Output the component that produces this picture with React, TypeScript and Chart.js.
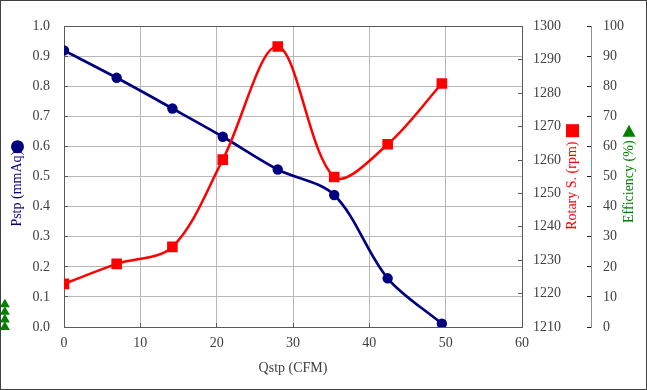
import React, { useEffect, useRef } from 'react';
import { Chart, registerables } from 'chart.js';

Chart.register(...registerables);

// ---- data ----
const qstp = [0, 6.9, 14.2, 20.8, 28.0, 35.4, 42.4, 49.5];
const pstp = [0.92, 0.829, 0.727, 0.633, 0.524, 0.439, 0.162, 0.011];
const rotary = [1222.9, 1228.9, 1234.0, 1260.1, 1294.0, 1254.9, 1264.7, 1282.9];
const effQstp = [-7.75, -7.75, -7.75, -7.75];
const efficiency = [0, 2.5, 5, 7.5];

const xTitle = 'Qstp (CFM)';
const pstpTitle = 'Pstp (mmAq)';
const rotaryTitle = 'Rotary S. (rpm)';
const effTitle = 'Efficiency (%)';

const NAVY = '#000080';
const RED = '#ff0000';
const GREEN = '#008000';
const FONT = '"Liberation Serif", "Times New Roman", serif';
const TEXT = '#404040';
const FRAME = '#595959';
const GRID = '#b8b8b8';

const bgPlugin = {
  id: 'bgBorder',
  beforeDraw(chart: any) {
    const { ctx, width, height } = chart;
    ctx.save();
    ctx.fillStyle = '#ffffff';
    ctx.fillRect(0, 0, width, height);
    ctx.restore();
  },
  afterDraw(chart: any) {
    const { ctx, width, height } = chart;
    ctx.save();
    ctx.strokeStyle = '#404040';
    ctx.lineWidth = 1;
    ctx.strokeRect(0.5, 0.5, width - 1, height - 1);
    ctx.restore();
  },
};

// draws points that lie outside the chart area (Chart.js skips them)
const outsidePoints = {
  id: 'outsidePoints',
  afterDatasetsDraw(chart: any) {
    const meta = chart.getDatasetMeta(2);
    const big = { left: -1e5, top: -1e5, right: 1e5, bottom: 1e5 };
    meta.data.forEach((pt: any) => pt.draw(chart.ctx, big));
  },
};

const titlesPlugin = {
  id: 'sideTitles',
  afterDraw(chart: any) {
    const { ctx, chartArea, scales } = chart;
    const mid = (chartArea.top + chartArea.bottom) / 2;
    ctx.save();
    ctx.font = `14px ${FONT}`;
    ctx.textAlign = 'center';
    ctx.textBaseline = 'middle';
    const vtext = (t: string, x: number, y: number, c: string) => {
      ctx.save();
      ctx.translate(x, y);
      ctx.rotate(-Math.PI / 2);
      ctx.fillStyle = c;
      ctx.fillText(t, 0, 0);
      ctx.restore();
    };
    // left
    const lx = scales.y.left + 17.5;
    vtext(pstpTitle, lx, mid + 12, NAVY);
    ctx.fillStyle = NAVY;
    ctx.beginPath();
    ctx.arc(lx, mid - 30, 6.5, 0, Math.PI * 2);
    ctx.fill();
    // rotary
    const rx = scales.y1.left + 50.5;
    vtext(rotaryTitle, rx, mid + 9, RED);
    ctx.fillStyle = RED;
    ctx.fillRect(rx - 6.5, mid - 52.5, 13, 13);
    // efficiency
    const ex = scales.y2.left + 38;
    vtext(effTitle, ex, mid + 5, GREEN);
    ctx.fillStyle = GREEN;
    ctx.beginPath();
    const ty = mid - 45;
    ctx.moveTo(ex, ty - 7);
    ctx.lineTo(ex + 6.5, ty + 5);
    ctx.lineTo(ex - 6.5, ty + 5);
    ctx.closePath();
    ctx.fill();
    ctx.restore();
  },
};

export default function App() {
  const ref = useRef<HTMLCanvasElement | null>(null);
  useEffect(() => {
    if (!ref.current) return;
    Chart.defaults.font.family = FONT;
    Chart.defaults.font.size = 14;
    Chart.defaults.color = TEXT;
    const chart = new Chart(ref.current, {
      type: 'line',
      data: {
        datasets: [
          {
            label: pstpTitle,
            data: qstp.map((x, i) => ({ x, y: pstp[i] })),
            yAxisID: 'y',
            borderColor: NAVY,
            backgroundColor: NAVY,
            borderWidth: 2.7,
            pointStyle: 'circle',
            pointRadius: 5.2,
            pointBorderWidth: 0,
            pointBackgroundColor: NAVY,
            tension: 0.33,
            order: 1,
          },
          {
            label: rotaryTitle,
            data: qstp.map((x, i) => ({ x, y: rotary[i] })),
            yAxisID: 'y1',
            borderColor: RED,
            backgroundColor: RED,
            borderWidth: 2.5,
            pointStyle: 'rect',
            pointRadius: 7.5,
            pointBorderWidth: 0,
            pointBackgroundColor: RED,
            tension: 0.33,
            order: 0,
          },
          {
            label: effTitle,
            data: effQstp.map((x, i) => ({ x, y: efficiency[i] })),
            yAxisID: 'y2',
            borderColor: GREEN,
            backgroundColor: GREEN,
            showLine: false,
            pointStyle: 'triangle',
            pointRadius: 5.8,
            pointBorderWidth: 0,
            pointBackgroundColor: GREEN,
            order: 2,
          },
        ],
      },
      options: {
        responsive: false,
        animation: false,
        events: [],
        layout: { padding: { top: 19, left: 0, right: 0, bottom: 0 } },
        plugins: { legend: { display: false }, tooltip: { enabled: false } },
        scales: {
          x: {
            type: 'linear',
            min: 0,
            max: 60,
            ticks: { stepSize: 10, padding: 12, color: TEXT, callback: (v: any) => String(v) },
            grid: { color: GRID, tickColor: FRAME, tickLength: -4 },
            border: { color: FRAME, width: 1 },
            title: {
              display: true,
              text: xTitle,
              color: TEXT,
              font: { size: 14 },
              padding: { top: 4, bottom: 13 },
            },
            afterFit: (s: any) => {
              s.height = 63;
            },
          },
          y: {
            position: 'left',
            min: 0,
            max: 1,
            ticks: {
              stepSize: 0.1,
              padding: 18,
              color: TEXT,
              callback: (v: any) => Number(v).toFixed(1),
            },
            grid: {
              color: (c: any) => (c.tick && c.tick.value >= 0.999 ? FRAME : GRID),
              tickColor: FRAME,
              tickLength: -4,
            },
            border: { color: FRAME, width: 1 },
            afterFit: (s: any) => {
              s.width = 64;
            },
          },
          y1: {
            position: 'right',
            min: 1210,
            max: 1300,
            ticks: { stepSize: 10, padding: 15, color: TEXT, callback: (v: any) => String(Math.round(Number(v))) },
            grid: { drawOnChartArea: false, tickColor: FRAME, tickLength: -4 },
            border: { color: FRAME, width: 1 },
            afterFit: (s: any) => {
              s.width = 69;
            },
          },
          y2: {
            position: 'right',
            min: 0,
            max: 100,
            ticks: { stepSize: 10, padding: 16, color: TEXT, callback: (v: any) => String(Math.round(Number(v))) },
            grid: { drawOnChartArea: false, tickColor: '#202020', tickLength: -4 },
            border: { color: '#909090', width: 1 },
            afterFit: (s: any) => {
              s.width = 56;
            },
          },
        },
      },
      plugins: [bgPlugin, outsidePoints, titlesPlugin],
    } as any);
    return () => chart.destroy();
  }, []);
  return (
    <div style={{ position: 'fixed', left: 0, top: 0, width: 647, height: 390 }}>
      <canvas ref={ref} width={647} height={390} style={{ display: 'block' }} />
    </div>
  );
}
